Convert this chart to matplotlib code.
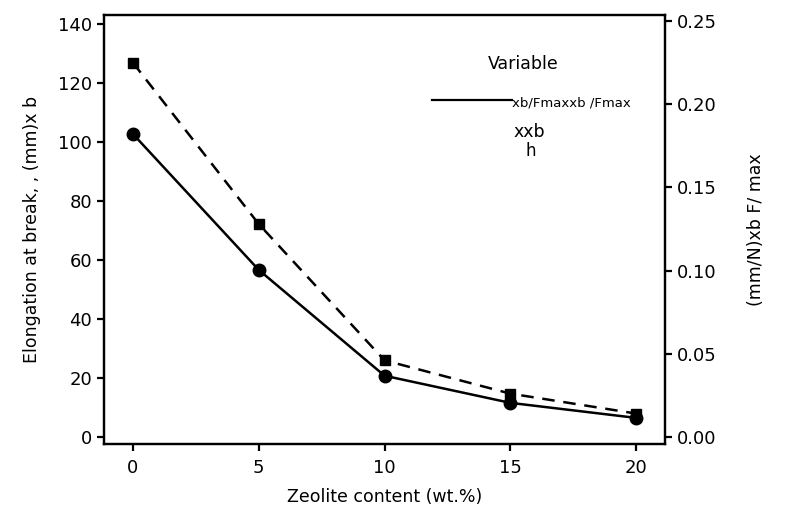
import matplotlib
matplotlib.use('Agg')
import matplotlib.pyplot as plt

plt.rcParams['font.family'] = ['DejaVu Sans']

zeolite = [0, 5, 10, 15, 20]
elong = [102.7, 56.6, 20.7, 11.5, 6.4]
xb_fmax = [0.225, 0.128, 0.046, 0.026, 0.014]

fig = plt.figure(figsize=(7.88, 5.24), dpi=100)
ax = fig.add_axes([0.132, 0.153, 0.712, 0.818])
ax2 = ax.twinx()

ax.plot(zeolite, elong, color='black', lw=1.8, marker='o', ms=9)
ax2.plot(zeolite, xb_fmax, color='black', lw=1.8, ls=(0, (5, 3.5)), marker='s', ms=6.5)

ax.set_xlim(-1.15, 21.15)
ax.set_ylim(-2.4, 143)
ax2.set_ylim(-0.0042, 0.2536)
ax.set_xticks([0, 5, 10, 15, 20])
ax.set_yticks(range(0, 141, 20))
ax2.set_yticks([0.00, 0.05, 0.10, 0.15, 0.20, 0.25])
ax2.set_yticklabels(['0.00', '0.05', '0.10', '0.15', '0.20', '0.25'])

for a in (ax, ax2):
    for s in a.spines.values():
        s.set_linewidth(1.6)
    a.tick_params(direction='out', length=5, width=1.6, labelsize=13)
ax.tick_params(axis='x', pad=6)

ax.set_xlabel('Zeolite content (wt.%)', fontsize=12.5, labelpad=8)
ax.set_ylabel('Elongation at break, , (mm)x b', fontsize=12.5, labelpad=12)
ax2.set_ylabel('(mm/N)xb F/ max', fontsize=12.5, labelpad=22)

# legend as drawn in the original
ax.text(0.685, 0.875, 'Variable', transform=ax.transAxes, fontsize=12.5)
ax.plot([0.585, 0.727], [0.803, 0.803], transform=ax.transAxes, color='black', lw=1.6)
ax.text(0.728, 0.787, 'xb/Fmaxxb /Fmax', transform=ax.transAxes, fontsize=9.5)
ax.text(0.729, 0.715, 'xxb', transform=ax.transAxes, fontsize=12.5)
ax.text(0.752, 0.672, 'h', transform=ax.transAxes, fontsize=12)

plt.savefig('out.png', dpi=100)
